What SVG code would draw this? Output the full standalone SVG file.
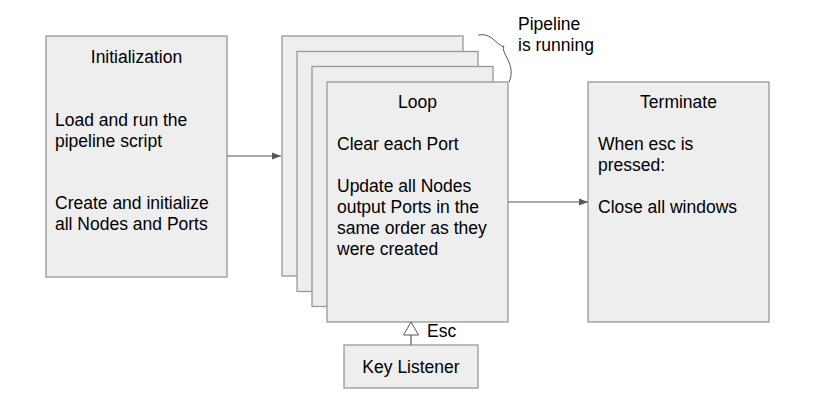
<svg xmlns="http://www.w3.org/2000/svg" width="826" height="402" viewBox="0 0 826 402">
<style>
.box{fill:#eeeeee;stroke:#999999;stroke-width:1.3}
.t{font-family:"Liberation Sans",Arial,sans-serif;font-size:17.5px;fill:#000}
.c{text-anchor:middle}
.con{stroke:#595959;stroke-width:1.2;fill:none}
</style>
<defs>
<marker id="arr" markerWidth="10" markerHeight="8" refX="9" refY="4" orient="auto" markerUnits="userSpaceOnUse">
<path d="M0,0.5 L9,4 L0,7.5 Z" fill="#595959"/>
</marker>
</defs>
<rect x="0" y="0" width="826" height="402" fill="#ffffff"/>
<g id="initialization">
<rect class="box" x="46" y="36" width="181" height="241"/>
<text class="t c" x="136.5" y="63">Initialization</text>
<text class="t" x="55" y="126">Load and run the</text>
<text class="t" x="55" y="147">pipeline script</text>
<text class="t" x="55" y="209">Create and initialize</text>
<text class="t" x="55" y="230">all Nodes and Ports</text>
</g>
<g id="loop-stack">
<rect class="box" x="282" y="36" width="181" height="240"/>
<rect class="box" x="297" y="51.5" width="181" height="240"/>
<rect class="box" x="312" y="66.5" width="181" height="240"/>
</g>
<g id="loop">
<rect class="box" x="327" y="82" width="181" height="240"/>
<text class="t c" x="417.5" y="108">Loop</text>
<text class="t" x="337" y="150">Clear each Port</text>
<text class="t" x="337" y="192">Update all Nodes</text>
<text class="t" x="337" y="213">output Ports in the</text>
<text class="t" x="337" y="234">same order as they</text>
<text class="t" x="337" y="255">were created</text>
</g>
<g id="terminate">
<rect class="box" x="588" y="82" width="181" height="240"/>
<text class="t c" x="678.5" y="108">Terminate</text>
<text class="t" x="598" y="150">When esc is</text>
<text class="t" x="598" y="171">pressed:</text>
<text class="t" x="598" y="213">Close all windows</text>
</g>
<g id="key-listener">
<rect class="box" x="344" y="345" width="134" height="43"/>
<text class="t c" x="411" y="373">Key Listener</text>
</g>
<g id="annotation">
<path d="M478,35 C490,33 494,41 499,44 C501,46 503,47 504,46 C502,49 505,54 508,60 C512,68 512,76 509,82" fill="none" stroke="#555555" stroke-width="1"/>
<text class="t" x="518" y="30">Pipeline</text>
<text class="t" x="518" y="51">is running</text>
</g>
<g id="connectors">
<line class="con" x1="227" y1="156" x2="281" y2="156" marker-end="url(#arr)"/>
<line class="con" x1="508" y1="202" x2="588" y2="202" marker-end="url(#arr)"/>
<line class="con" x1="411" y1="345" x2="411" y2="335"/>
<path d="M411,322 L418.5,335 L403.5,335 Z" fill="#ffffff" stroke="#595959" stroke-width="1"/>
<text class="t" x="427" y="337">Esc</text>
</g>
</svg>
